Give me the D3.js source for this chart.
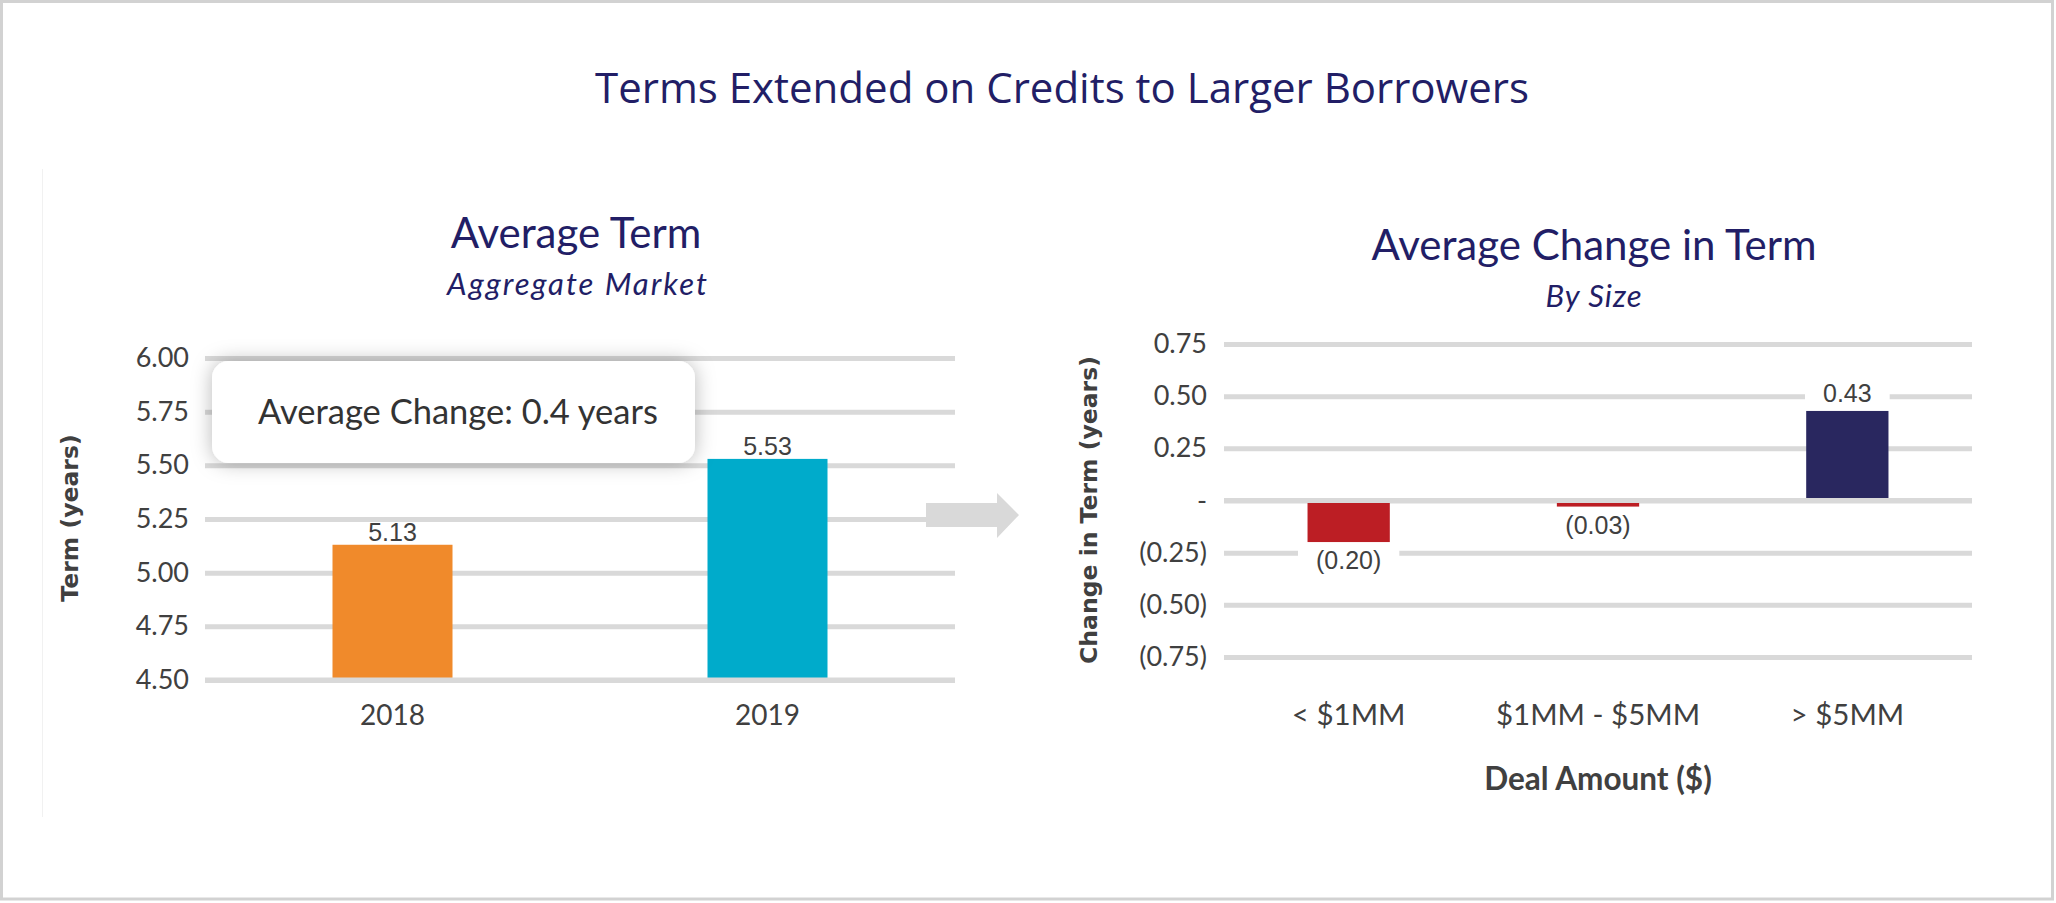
<!DOCTYPE html>
<html>
<head>
<meta charset="utf-8">
<script src="https://cdn.jsdelivr.net/npm/d3@7"></script>
<style>
  html, body { margin: 0; padding: 0; background: #ffffff; }
  svg { display: block; }
</style>
</head>
<body>
<svg id="chart" width="2056" height="903"></svg>
<script>
// Left panel: average term by year (aggregate market)
const years = ["2018", "2019"];
const avgTerm = [5.13, 5.53];
const termTicks = [4.50, 4.75, 5.00, 5.25, 5.50, 5.75, 6.00];
const averageChange = 0.4;

// Right panel: average change in term by deal size
const sizeBuckets = ["< $1MM", "$1MM - $5MM", "> $5MM"];
const termChange = [-0.20, -0.03, 0.43];
const changeTicks = [-0.75, -0.50, -0.25, 0, 0.25, 0.50, 0.75];

const yearColors = ["#f08a2b", "#00abcb"];
const negColor = "#bc1e24", posColor = "#29275f";
const gridColor = "#d9d9d9";
const navy = "#221e66";
const textColor = "#404040";
const uiFont = "Lato, 'Open Sans', sans-serif";

function draw() {
  const svg = d3.select("#chart");

  const defs = svg.append("defs");
  const shadow = defs.append("filter").attr("id", "softShadow")
    .attr("x", "-20%").attr("y", "-60%").attr("width", "140%").attr("height", "220%");
  shadow.append("feDropShadow").attr("dx", 0).attr("dy", 0)
    .attr("stdDeviation", 10).attr("flood-color", "#000").attr("flood-opacity", 0.28);

  // page frame
  svg.append("rect").attr("x", 1.5).attr("y", 1.5).attr("width", 2051).attr("height", 897.5)
    .attr("fill", "#fff").attr("stroke", "#d2d2d2").attr("stroke-width", 3);
  svg.append("line").attr("x1", 42.5).attr("x2", 42.5).attr("y1", 169).attr("y2", 817)
    .attr("stroke", "#f1f1f1").attr("stroke-width", 1);

  // main title
  svg.append("text").attr("x", 1062).attr("y", 103).attr("text-anchor", "middle")
    .attr("font-family", "'Open Sans', sans-serif").attr("font-size", 42)
    .attr("fill", navy).text("Terms Extended on Credits to Larger Borrowers");

  // ---------- left panel ----------
  const xL = d3.scaleBand().domain(years).range([205, 955]).paddingInner(0.68).paddingOuter(0.34);
  const yL = d3.scaleLinear().domain([4.5, 6.0]).range([680, 358]);

  svg.append("text").attr("x", 576).attr("y", 248).attr("text-anchor", "middle")
    .attr("font-family", uiFont).attr("font-size", 42).attr("fill", navy).text("Average Term");
  svg.append("text").attr("x", 578).attr("y", 295).attr("text-anchor", "middle")
    .attr("font-family", uiFont).attr("font-style", "italic").attr("font-size", 31)
    .attr("letter-spacing", 2).attr("fill", navy).text("Aggregate Market");

  const axL = svg.append("g").attr("transform", "translate(205,0)")
    .call(d3.axisLeft(yL).tickValues(termTicks).tickFormat(d3.format(".2f"))
      .tickSizeInner(-750).tickSizeOuter(0).tickPadding(16));
  styleAxis(axL);

  svg.append("g").selectAll("rect").data(years).join("rect")
    .attr("x", d => xL(d)).attr("width", xL.bandwidth())
    .attr("y", (d, i) => yL(avgTerm[i]))
    .attr("height", (d, i) => yL(4.5) - yL(avgTerm[i]))
    .attr("fill", (d, i) => yearColors[i]);
  // baseline over bar feet
  svg.append("line").attr("x1", 205).attr("x2", 955).attr("y1", yL(4.5)).attr("y2", yL(4.5))
    .attr("stroke", gridColor).attr("stroke-width", 5);

  svg.append("g").selectAll("text").data(years).join("text")
    .attr("x", d => xL(d) + xL.bandwidth() / 2)
    .attr("y", (d, i) => yL(avgTerm[i]) - 4)
    .attr("text-anchor", "middle").attr("font-family", "'Liberation Sans', Arial, sans-serif")
    .attr("font-size", 25).attr("fill", textColor)
    .text((d, i) => d3.format(".2f")(avgTerm[i]));

  const bxL = svg.append("g").attr("transform", "translate(0,680)")
    .call(d3.axisBottom(xL).tickSize(0).tickPadding(25));
  bxL.select(".domain").remove();
  bxL.selectAll("text").attr("font-family", uiFont).attr("font-size", 28).attr("fill", textColor);

  svg.append("text").attr("transform", "translate(78,518) rotate(-90)").attr("text-anchor", "middle")
    .attr("font-family", "'DejaVu Sans', sans-serif").attr("font-weight", "bold")
    .attr("font-size", 23.5).attr("fill", textColor).text("Term (years)");

  // summary callout
  svg.append("rect").attr("x", 212).attr("y", 361).attr("width", 483).attr("height", 102)
    .attr("rx", 17).attr("fill", "#fff").attr("filter", "url(#softShadow)");
  svg.append("text").attr("x", 258).attr("y", 424)
    .attr("font-family", uiFont).attr("font-size", 34.5).attr("fill", "#333")
    .text(`Average Change: ${averageChange} years`);

  // arrow between panels
  svg.append("path")
    .attr("d", "M926,503 L997,503 L997,493 L1019,515 L997,538 L997,527 L926,527 Z")
    .attr("fill", gridColor);

  // ---------- right panel ----------
  const xR = d3.scaleBand().domain(sizeBuckets).range([1224, 1972]).paddingInner(0.67).paddingOuter(0.335);
  const yR = d3.scaleLinear().domain([-0.75, 0.75]).range([657, 344]);
  const fmtChange = v => v === 0 ? "-" : v < 0 ? `(${d3.format(".2f")(-v)})` : d3.format(".2f")(v);

  svg.append("text").attr("x", 1594).attr("y", 260).attr("text-anchor", "middle")
    .attr("font-family", uiFont).attr("font-size", 42).attr("fill", navy).text("Average Change in Term");
  svg.append("text").attr("x", 1594).attr("y", 307).attr("text-anchor", "middle")
    .attr("font-family", uiFont).attr("font-style", "italic").attr("font-size", 31)
    .attr("letter-spacing", 1).attr("fill", navy).text("By Size");

  const axR = svg.append("g").attr("transform", "translate(1224,0)")
    .call(d3.axisLeft(yR).tickValues(changeTicks).tickFormat(fmtChange)
      .tickSizeInner(-748).tickSizeOuter(0).tickPadding(17));
  styleAxis(axR);

  svg.append("g").selectAll("rect").data(sizeBuckets).join("rect")
    .attr("x", d => xR(d)).attr("width", xR.bandwidth())
    .attr("y", (d, i) => Math.min(yR(0), yR(termChange[i])))
    .attr("height", (d, i) => Math.abs(yR(termChange[i]) - yR(0)))
    .attr("fill", (d, i) => termChange[i] < 0 ? negColor : posColor);
  svg.append("line").attr("x1", 1224).attr("x2", 1972).attr("y1", yR(0)).attr("y2", yR(0))
    .attr("stroke", gridColor).attr("stroke-width", 5);

  const labels = svg.append("g").selectAll("g").data(sizeBuckets).join("g");
  labels.each(function (d, i) {
    const v = termChange[i];
    const g = d3.select(this);
    const cx = xR(d) + xR.bandwidth() / 2;
    const y = v < 0 ? yR(v) + 27 : yR(v) - 9;
    const bg = g.append("rect").attr("fill", "#fff");
    const t = g.append("text").attr("x", cx).attr("y", y).attr("text-anchor", "middle")
      .attr("font-family", "'Liberation Sans', Arial, sans-serif").attr("font-size", 25)
      .attr("fill", textColor).text(fmtChange(v));
    const b = t.node().getBBox();
    bg.attr("x", b.x - 18).attr("y", b.y - 4).attr("width", b.width + 36).attr("height", b.height + 8);
  });

  const bxR = svg.append("g").attr("transform", "translate(0,657)")
    .call(d3.axisBottom(xR).tickSize(0).tickPadding(47));
  bxR.select(".domain").remove();
  bxR.selectAll("text").attr("font-family", uiFont).attr("font-size", 29.5).attr("fill", textColor);

  svg.append("text").attr("x", 1598).attr("y", 790).attr("text-anchor", "middle")
    .attr("font-family", uiFont).attr("font-weight", "bold").attr("font-size", 31.5)
    .attr("fill", textColor).text("Deal Amount ($)");

  svg.append("text").attr("transform", "translate(1097,510) rotate(-90)").attr("text-anchor", "middle")
    .attr("font-family", "'DejaVu Sans', sans-serif").attr("font-weight", "bold")
    .attr("font-size", 23.5).attr("fill", textColor).text("Change in Term (years)");

  function styleAxis(g) {
    g.select(".domain").remove();
    g.selectAll(".tick line").attr("stroke", gridColor).attr("stroke-width", 5);
    g.selectAll(".tick text").attr("font-family", uiFont).attr("font-size", 27).attr("fill", textColor);
  }
}

if (document.fonts && document.fonts.ready) {
  document.fonts.ready.then(draw);
} else {
  draw();
}
</script>
</body>
</html>
